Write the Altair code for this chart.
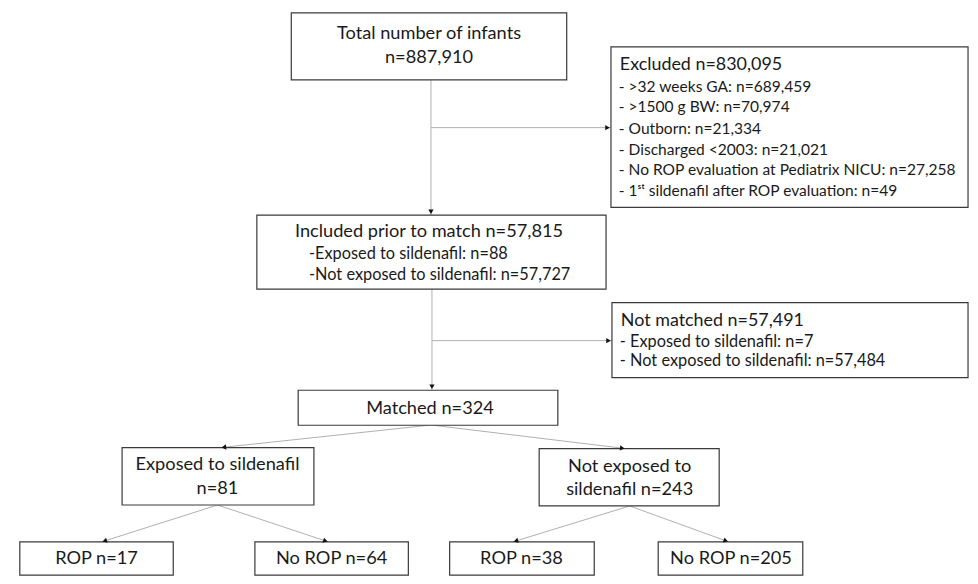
import math
import altair as alt
import pandas as pd

# ---------------- content (text of each box) ----------------
box_ids = ["total", "excluded", "included", "not_matched", "matched",
           "exposed", "not_exposed", "rop_exp", "norop_exp", "rop_unexp", "norop_unexp"]

total_lines = ["Total number of infants", "n=887,910"]
excluded_title = "Excluded n=830,095"
excluded_items = [
    "- >32 weeks GA: n=689,459",
    "- >1500 g BW: n=70,974",
    "- Outborn: n=21,334",
    "- Discharged <2003: n=21,021",
    "- No ROP evaluation at Pediatrix NICU: n=27,258",
    "- 1\u02e2\u1d57 sildenafil after ROP evaluation: n=49",
]
included_title = "Included prior to match n=57,815"
included_items = ["-Exposed to sildenafil: n=88", "-Not exposed to sildenafil: n=57,727"]
not_matched_title = "Not matched n=57,491"
not_matched_items = ["- Exposed to sildenafil: n=7", "- Not exposed to sildenafil: n=57,484"]
matched_lines = ["Matched n=324"]
exposed_lines = ["Exposed to sildenafil", "n=81"]
not_exposed_lines = ["Not exposed to", "sildenafil n=243"]
outcome_lines = ["ROP n=17", "No ROP n=64", "ROP n=38", "No ROP n=205"]

# ---------------- layout (reference pixel space 978 x 584) ----------------
REF_W, REF_H = 978, 584
W, H = 962, 568
FS = W / REF_W

box_layout = {
    "total":       (288, 568, 5, 74),
    "excluded":    (613, 976, 40, 205),
    "included":    (253, 608, 213, 289),
    "not_matched": (614, 976, 303, 380),
    "matched":     (295, 559, 393, 429),
    "exposed":     (116, 311, 452, 511),
    "not_exposed": (540, 723, 453, 512),
    "rop_exp":     (12, 168, 549, 583),
    "norop_exp":   (251, 407, 549, 583),
    "rop_unexp":   (449, 596, 549, 583),
    "norop_unexp": (661, 808, 549, 583),
}

boxes = pd.DataFrame(
    [{"id": k, "x1": v[0], "x2": v[1], "y1": v[2], "y2": v[3]} for k, v in box_layout.items()]
)

TITLE = 18.5
ITEM = 15.8

texts = []
def add(txt, x, y, size, align="center"):
    texts.append({"text": txt, "x": x, "y": y, "size": size * FS, "align": align})

add(total_lines[0], 428, 27, TITLE)
add(total_lines[1], 428, 51, TITLE)
add(excluded_title, 622, 59, 18.2, "left")
for t, yy in zip(excluded_items, [81, 102, 124, 146, 167, 188]):
    add(t, 621, yy, ITEM, "left")
add(included_title, 428, 230, TITLE)
for t, yy in zip(included_items, [253, 275]):
    add(t, 306, yy, 16.6, "left")
add(not_matched_title, 623, 322, 18.2, "left")
for t, yy in zip(not_matched_items, [343, 363]):
    add(t, 622, yy, 16.6, "left")
add(matched_lines[0], 429, 412, TITLE)
add(exposed_lines[0], 213, 470, TITLE)
add(exposed_lines[1], 213, 495, TITLE)
add(not_exposed_lines[0], 632, 472, TITLE)
add(not_exposed_lines[1], 632, 496, TITLE)
for t, cx in zip(outcome_lines, [90, 329, 522, 735]):
    add(t, cx, 567, TITLE)
text_df = pd.DataFrame(texts)

edges = [
    # (x1, y1, x2, y2)
    (430, 74, 430, 213),
    (430, 123, 613, 123),
    (431, 289, 431, 393),
    (431, 342, 614, 342),
    (428, 429, 216, 452),
    (432, 429, 628, 453),
    (213, 511, 95, 549),
    (213, 511, 326, 549),
    (632, 512, 513, 549),
    (632, 512, 733, 549),
]
edge_df = pd.DataFrame([{"x1": e[0], "y1": e[1], "x2": e[2], "y2": e[3]} for e in edges])

heads = []
for x1, y1, x2, y2 in edges:
    dx, dy = x2 - x1, y2 - y1
    L = math.hypot(dx, dy)
    ux, uy = dx / L, dy / L
    ang = math.degrees(math.atan2(dx, -dy)) % 360
    heads.append({"x": x2 - 3.5 * ux, "y": y2 - 3.5 * uy, "angle": ang})
head_df = pd.DataFrame(heads)

xs = alt.Scale(domain=[0, REF_W], range=[0, W], nice=False, zero=False)
ys = alt.Scale(domain=[0, REF_H], range=[0, H], nice=False, zero=False)

FONT = "Lato"

lines = alt.Chart(edge_df).mark_rule(color="#b0b0b0", strokeWidth=1).encode(
    x=alt.X("x1:Q", scale=xs, axis=None),
    y=alt.Y("y1:Q", scale=ys, axis=None),
    x2="x2:Q",
    y2="y2:Q",
)

arrowheads = alt.Chart(head_df).mark_point(
    shape="triangle-up", filled=True, color="#111111", size=28, opacity=1
).encode(
    x=alt.X("x:Q", scale=xs, axis=None),
    y=alt.Y("y:Q", scale=ys, axis=None),
    angle=alt.Angle("angle:Q", scale=None),
)

rects = alt.Chart(boxes).mark_rect(
    fill="white", stroke="#3a3a3a", strokeWidth=1.2
).encode(
    x=alt.X("x1:Q", scale=xs, axis=None),
    x2="x2:Q",
    y=alt.Y("y1:Q", scale=ys, axis=None),
    y2="y2:Q",
)

def text_layer(df, align):
    return alt.Chart(df).mark_text(
        align=align, baseline="middle", font=FONT, color="#1a1a1a"
    ).encode(
        x=alt.X("x:Q", scale=xs, axis=None),
        y=alt.Y("y:Q", scale=ys, axis=None),
        text="text:N",
        size=alt.Size("size:Q", scale=None, legend=None),
    )

labels_c = text_layer(text_df[text_df["align"] == "center"], "center")
labels_l = text_layer(text_df[text_df["align"] == "left"], "left")

chart = alt.layer(lines, rects, arrowheads, labels_c, labels_l).properties(
    width=W, height=H, padding=0
).configure_view(stroke=None)

chart.save("out.html", embed_options={"renderer": "svg", "actions": False})
